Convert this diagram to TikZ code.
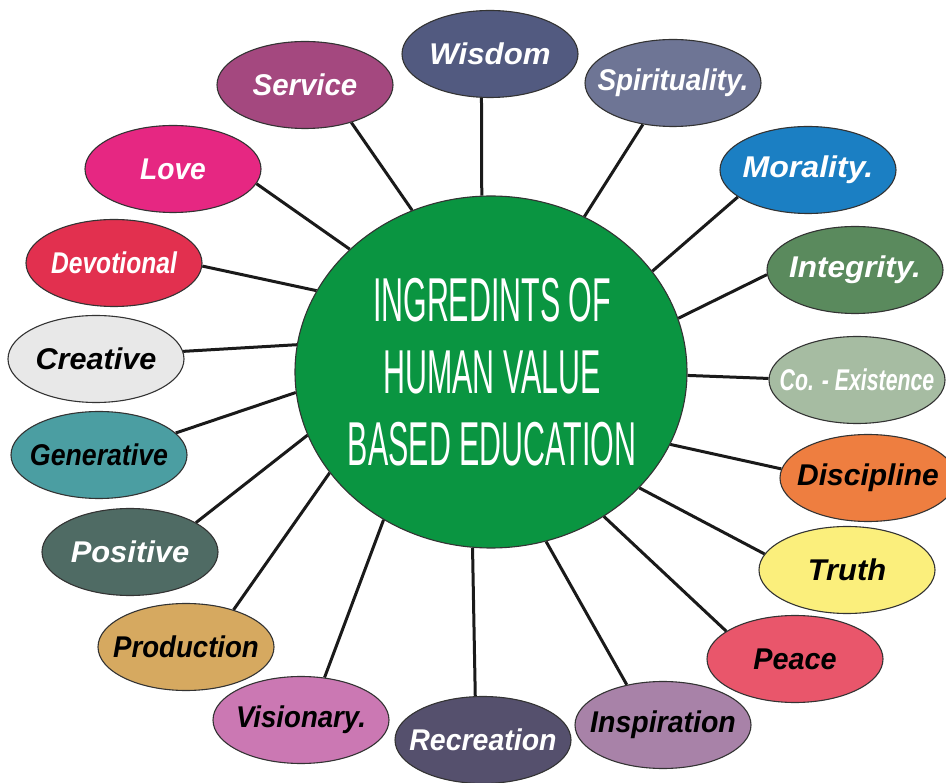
\documentclass[tikz,border=0pt]{standalone}
\usepackage{fontspec}
\usepackage{graphicx}
\usetikzlibrary{shapes.geometric,backgrounds}
\newfontfamily\lblfont{Liberation Sans}
\newfontfamily\ctrfont{Liberation Sans}[FakeStretch=0.49]
\definecolor{cwisdom}{HTML}{525A80}
\definecolor{cspirit}{HTML}{6E7595}
\definecolor{cservice}{HTML}{A4487F}
\definecolor{clove}{HTML}{E62782}
\definecolor{cdevot}{HTML}{E2304F}
\definecolor{ccreative}{HTML}{E8E8E8}
\definecolor{cgener}{HTML}{4B9EA2}
\definecolor{cposit}{HTML}{4F6B64}
\definecolor{cprod}{HTML}{D6A960}
\definecolor{cvision}{HTML}{CB78B3}
\definecolor{crecr}{HTML}{55506D}
\definecolor{cinsp}{HTML}{A882A8}
\definecolor{cpeace}{HTML}{E9566B}
\definecolor{ctruth}{HTML}{FBEF7C}
\definecolor{cdisc}{HTML}{EE7E40}
\definecolor{ccoex}{HTML}{A6BCA2}
\definecolor{cinteg}{HTML}{5A8A5D}
\definecolor{cmoral}{HTML}{1B7FC3}
\definecolor{ccenter}{HTML}{0A9541}
\definecolor{cline}{HTML}{1A1A1A}
\tikzset{
  bub/.style={ellipse, draw=black!80, line width=1.1pt, minimum width=176pt, minimum height=87pt, inner sep=0pt},
  lbl/.style={font=\lblfont\bfseries\itshape\fontsize{30}{32}\selectfont, inner sep=0pt},
  link/.style={line width=3pt, draw=cline},
  hub/.style={ellipse, draw=black!80, line width=1.1pt, fill=ccenter, minimum width=392pt, minimum height=352pt, inner sep=0pt},
  hubtext/.style={font=\ctrfont\fontsize{62}{72}\selectfont, text=white, align=center, inner sep=0pt}
}
\begin{document}
\begin{tikzpicture}[x=1pt,y=-1pt]
\useasboundingbox (0,0) rectangle (946,783);
\node[hub] (c) at (491,372) {};
\node[hubtext] (ct) at (492,372) {INGREDINTS OF\\HUMAN VALUE\\BASED EDUCATION};
\foreach \n/\x/\y/\col/\tc/\s/\t in {
  serv/305/85/cservice/white/0.98/Service,
  wisd/490/54/cwisdom/white/1.04/Wisdom,
  spir/673/83/cspirit/white/0.93/Spirituality.,
  mora/808/170/cmoral/white/1.07/Morality.,
  inte/855/270/cinteg/white/1.05/Integrity.,
  coex/857/380/ccoex/white/0.71/Co. - Existence,
  disc/868/478/cdisc/black/1.0/Discipline,
  trut/847/570/ctruth/black/1.03/Truth,
  peac/795/659/cpeace/black/0.96/Peace,
  insp/663/725/cinsp/black/0.95/Inspiration,
  recr/483/740/crecr/white/0.95/Recreation,
  visi/301/720/cvision/black/0.92/Visionary.,
  prod/186/647/cprod/black/0.92/Production,
  posi/130/552/cposit/white/1.03/Positive,
  gene/99/455/cgener/black/0.89/Generative,
  crea/96/359/ccreative/black/1.02/Creative,
  devo/114/263/cdevot/white/0.82/Devotional,
  love/173/169/clove/white/0.94/Love}{
  \node[bub, fill=\col] (\n) at (\x,\y) {};
  \node[lbl, text=\tc] (\n-t) at (\x,\y) {\scalebox{\s}[1]{\t}};
}
\begin{scope}[on background layer]
\draw[link] (c.116.9) -- (serv.321);
\draw[link] (c.93.6) -- (wisd.259.5);
\draw[link] (c.59.7) -- (spir.234.5);
\draw[link] (c.32.9) -- (mora.201.8);
\draw[link] (c.16.4) -- (inte.183.3);
\draw[link] (c.-1.7) -- (coex.179);
\draw[link] (c.-22.7) -- (disc.174.7);
\draw[link] (c.-38.8) -- (trut.169.6);
\draw[link] (c.-52.1) -- (peac.158.9);
\draw[link] (c.-72) -- (insp.132.7);
\draw[link] (c.-96.2) -- (recr.100.5);
\draw[link] (c.234.8) -- (visi.61.2);
\draw[link] (c.212.9) -- (prod.38.5);
\draw[link] (c.199.7) -- (posi.24.1);
\draw[link] (c.186.9) -- (gene.16.2);
\draw[link] (c.172.4) -- (crea.5.8);
\draw[link] (c.155.6) -- (devo.-2);
\draw[link] (c.139.8) -- (love.-10.8);
\end{scope}
\end{tikzpicture}
\end{document}
